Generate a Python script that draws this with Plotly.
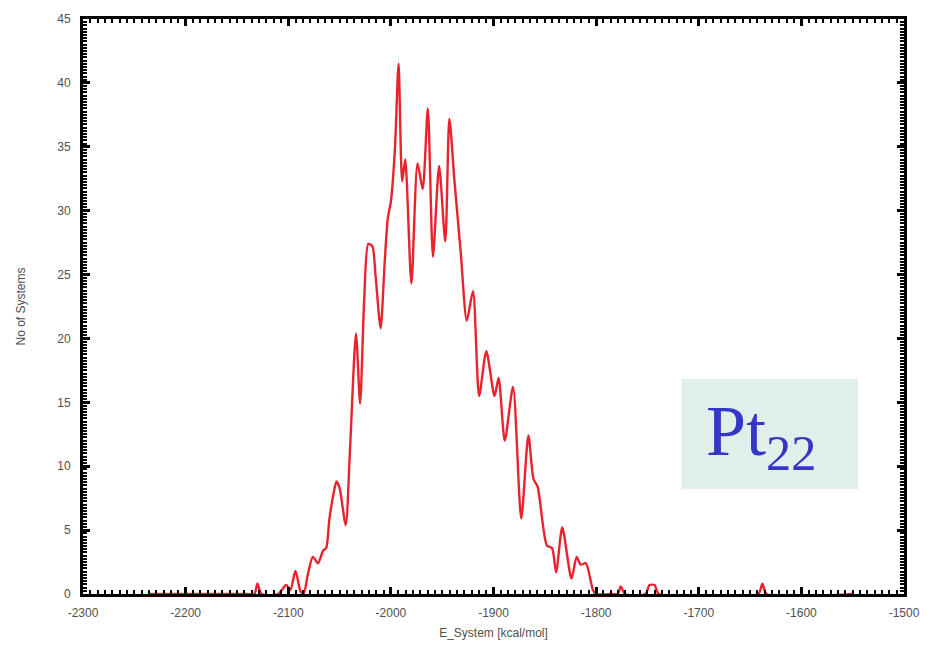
import plotly.graph_objects as go

# Energy distribution of sampled Pt22 systems
energy = [
    -2235, -2140, -2133, -2130, -2126, -2110, -2102, -2098, -2093, -2088,
    -2085, -2081, -2076, -2071, -2066, -2063, -2060, -2056, -2053, -2050,
    -2044, -2040, -2034, -2030, -2026, -2022, -2018, -2015, -2010, -2006,
    -2003, -2000, -1996, -1992.5, -1989, -1986, -1980, -1974, -1969, -1964,
    -1959, -1953, -1947, -1943, -1938, -1932, -1926, -1920, -1914, -1907,
    -1899, -1895, -1889, -1881, -1873, -1866, -1861, -1857, -1848, -1843,
    -1839, -1833, -1824, -1819, -1815, -1810, -1803, -1800, -1785, -1779,
    -1776, -1772, -1752, -1748, -1743, -1739, -1642, -1638, -1634, -1550,
]
n_systems = [
    0, 0, 0, 0.8, 0, 0, 0.7, 0.3, 1.8, 0.2,
    0, 1.5, 2.9, 2.4, 3.4, 3.6, 5.8, 7.8, 8.8, 8.3,
    5.4, 11, 20.4, 14.9, 23, 27.4, 27.2, 25, 20.8, 26,
    29.4, 30.7, 34.9, 41.5, 32.3, 34.0, 24.3, 33.7, 31.7, 38,
    26.4, 33.5, 27.6, 37.2, 32.3, 26.8, 21.4, 23.7, 15.5, 19,
    15.5, 16.9, 12, 16.2, 5.9, 12.4, 9, 8.4, 3.8, 3.6,
    1.7, 5.2, 1.2, 2.9, 2.3, 2.4, 0.3, 0, 0, 0,
    0.6, 0, 0, 0.7, 0.7, 0, 0, 0.8, 0, 0,
]

x_ticks = [-2300, -2200, -2100, -2000, -1900, -1800, -1700, -1600, -1500]
y_ticks = [0, 5, 10, 15, 20, 25, 30, 35, 40, 45]

fig = go.Figure()
fig.add_trace(go.Scatter(
    x=energy, y=n_systems, mode="lines",
    line=dict(color="#e8232e", width=2.4, shape="spline", smoothing=0.7),
    showlegend=False,
))

label_font = dict(family="Liberation Sans, Arial, sans-serif", size=12, color="#505050")
axis_common = dict(
    showline=True, linecolor="black", linewidth=3, mirror="ticks",
    ticks="inside", ticklen=7, tickwidth=2.5, tickcolor="black",
    showgrid=False, zeroline=False, tickfont=label_font,
)

fig.update_xaxes(
    range=[-2300, -1500], tickvals=x_ticks, ticktext=[str(v) for v in x_ticks],
    ticklabelstandoff=6,
    minor=dict(ticks="inside", ticklen=4, tickwidth=2, tickcolor="black",
               dtick=100 / 14, tick0=-2300, showgrid=False),
    title=dict(text="E_System [kcal/mol]", standoff=10, font=label_font),
    **axis_common,
)
fig.update_yaxes(
    range=[0, 45], tickvals=y_ticks, ticktext=[str(v) for v in y_ticks],
    ticklabelstandoff=7,
    minor=dict(ticks="inside", ticklen=4, tickwidth=2, tickcolor="black",
               dtick=0.25, tick0=0, showgrid=False),
    title=dict(text="No of Systems", standoff=30, font=label_font),
    **axis_common,
)

# Label panel
fig.add_shape(type="rect", xref="paper", yref="paper",
              x0=0.729, x1=0.944, y0=0.182, y1=0.374,
              fillcolor="#e1efeb", line=dict(width=0), layer="above")
fig.add_annotation(xref="paper", yref="paper", x=0.756, y=0.275,
                   xanchor="left", yanchor="middle", showarrow=False,
                   text="Pt<sub>22</sub>",
                   font=dict(family="Liberation Serif, Times New Roman, serif",
                             size=72, color="#3535c6"))

fig.update_layout(
    width=932, height=655,
    margin=dict(l=83, r=22, t=17, b=61),
    paper_bgcolor="white", plot_bgcolor="white",
)

fig.write_html("out.html")
